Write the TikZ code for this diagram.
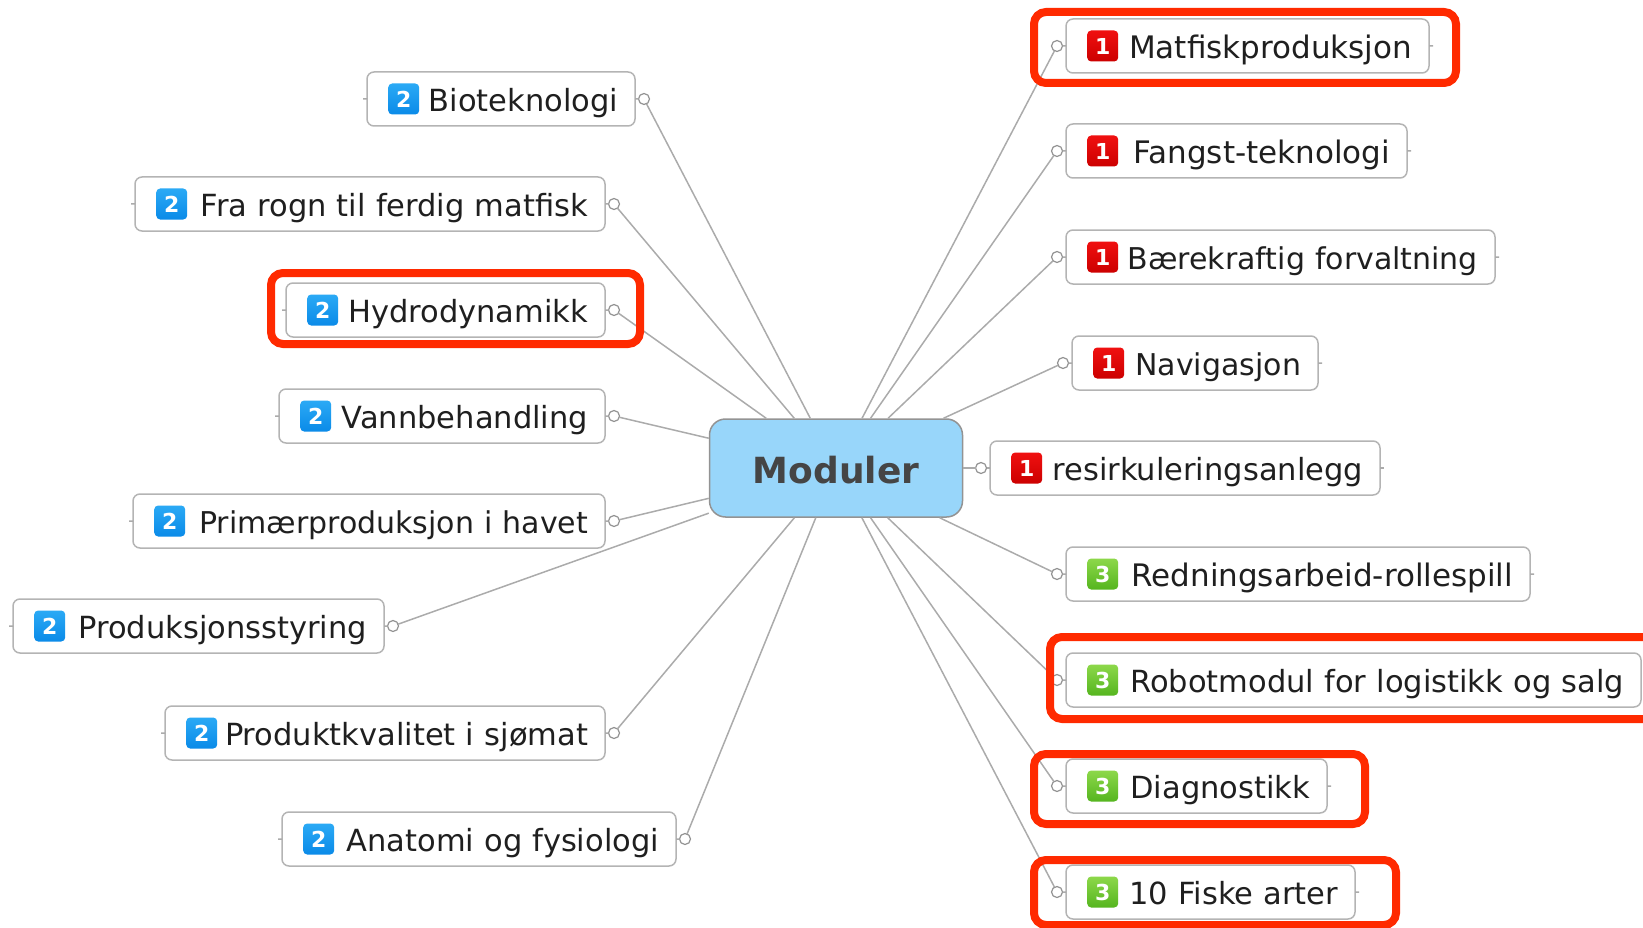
\documentclass[tikz,border=0pt]{standalone}
\usepackage{fontspec}
\setmainfont{DejaVu Sans}
\usetikzlibrary{positioning}

\definecolor{hubblue}{HTML}{98D6FA}
\definecolor{hubtext}{HTML}{454545}
\definecolor{linegray}{HTML}{ABABAB}
\definecolor{boxgray}{HTML}{B4B4B4}
\definecolor{marksred}{HTML}{FF2A00}
\definecolor{onetop}{HTML}{F01010}
\definecolor{onelow}{HTML}{CC0000}
\definecolor{twotop}{HTML}{2BA9F5}
\definecolor{twolow}{HTML}{0A8BE8}
\definecolor{threetop}{HTML}{8DD84A}
\definecolor{threelow}{HTML}{55B51F}

\tikzset{
  modbox/.style={draw=boxgray,line width=1.5pt,fill=white,rounded corners=7pt,align=right,inner xsep=17pt,inner ysep=9pt,outer sep=0pt,text=black!88,font=\fontsize{30.5}{36}\selectfont,text height=30.5pt,text depth=5.5pt},
  slimtext/.style={font=\fontsize{30}{36}\selectfont},
  widetext/.style={font=\fontsize{31}{36}\selectfont},
  hub/.style={draw=gray!85,line width=1.5pt,fill=hubblue,rounded corners=16pt,minimum width=253pt,minimum height=98pt,text=hubtext,font=\fontsize{36}{42}\selectfont\bfseries,text height=35pt,text depth=4pt},
  knob/.style={circle,draw=gray!85,line width=1.2pt,fill=white,minimum size=11pt,inner sep=0pt,outer sep=0pt},
  link/.style={draw=linegray,line width=1.5pt},
  badge/.style={minimum size=31pt,inner sep=0pt,rounded corners=4pt,text=white,font=\fontsize{22}{24}\selectfont\bfseries},
  badgeone/.style={badge,top color=onetop,bottom color=onelow},
  badgetwo/.style={badge,top color=twotop,bottom color=twolow},
  badgethree/.style={badge,top color=threetop,bottom color=threelow},
  marks/.style={draw=marksred,line width=8pt,rounded corners=12pt}
}

\begin{document}
\begin{tikzpicture}[x=1pt,y=-1pt]
  \useasboundingbox (0,0) rectangle (1643,928);
  \node[hub] (hub) at (836,468) {Moduler};

  \node[modbox,widetext,anchor=west,text width=329pt] (mat) at (1066,46) {Matfiskproduksjon};
  \node[badgeone,right=21pt of mat.west] (matb) {1};
  \node[knob,left=3.5pt of mat] (matk) {};
  \coordinate[right=4pt of mat] (matt);
  \draw[link] (hub) -- (matk) (mat) -- (matk) (mat) -- (matt);

  \node[modbox,widetext,anchor=west,text width=307pt] (fan) at (1066,151) {Fangst-teknologi};
  \node[badgeone,right=21pt of fan.west] (fanb) {1};
  \node[knob,left=3.5pt of fan] (fank) {};
  \coordinate[right=4pt of fan] (fant);
  \draw[link] (hub) -- (fank) (fan) -- (fank) (fan) -- (fant);

  \node[modbox,slimtext,anchor=west,text width=395pt] (bar) at (1066,257) {Bærekraftig forvaltning};
  \node[badgeone,right=21pt of bar.west] (barb) {1};
  \node[knob,left=3.5pt of bar] (bark) {};
  \coordinate[right=4pt of bar] (bart);
  \draw[link] (hub) -- (bark) (bar) -- (bark) (bar) -- (bart);

  \node[modbox,slimtext,anchor=west,text width=212pt] (nav) at (1072,363) {Navigasjon};
  \node[badgeone,right=21pt of nav.west] (navb) {1};
  \node[knob,left=3.5pt of nav] (navk) {};
  \coordinate[right=4pt of nav] (navt);
  \draw[link] (hub) -- (navk) (nav) -- (navk) (nav) -- (navt);

  \node[modbox,anchor=west,text width=356pt] (res) at (990,468) {resirkuleringsanlegg};
  \node[badgeone,right=21pt of res.west] (resb) {1};
  \node[knob,left=3.5pt of res] (resk) {};
  \coordinate[right=4pt of res] (rest);
  \draw[link] (hub) -- (resk) (res) -- (resk) (res) -- (rest);

  \node[modbox,widetext,anchor=west,text width=430pt] (red) at (1066,574) {Redningsarbeid-rollespill};
  \node[badgethree,right=21pt of red.west] (redb) {3};
  \node[knob,left=3.5pt of red] (redk) {};
  \coordinate[right=4pt of red] (redt);
  \draw[link] (hub) -- (redk) (red) -- (redk) (red) -- (redt);

  \node[modbox,anchor=west,text width=541pt] (rob) at (1066,680) {Robotmodul for logistikk og salg};
  \node[badgethree,right=21pt of rob.west] (robb) {3};
  \node[knob,left=3.5pt of rob] (robk) {};
  \draw[link] (hub) -- (robk) (rob) -- (robk);

  \node[modbox,anchor=west,text width=227pt] (dia) at (1066,786) {Diagnostikk};
  \node[badgethree,right=21pt of dia.west] (diab) {3};
  \node[knob,left=3.5pt of dia] (diak) {};
  \coordinate[right=4pt of dia] (diat);
  \draw[link] (hub) -- (diak) (dia) -- (diak) (dia) -- (diat);

  \node[modbox,anchor=west,text width=255pt] (fis) at (1066,892) {10 Fiske arter};
  \node[badgethree,right=21pt of fis.west] (fisb) {3};
  \node[knob,left=3.5pt of fis] (fisk) {};
  \coordinate[right=4pt of fis] (fist);
  \draw[link] (hub) -- (fisk) (fis) -- (fisk) (fis) -- (fist);

  \node[modbox,anchor=east,text width=234pt] (bio) at (635,99) {Bioteknologi};
  \node[badgetwo,right=21pt of bio.west] (biob) {2};
  \node[knob,right=3.5pt of bio] (biok) {};
  \coordinate[left=4pt of bio] (biot);
  \draw[link] (hub) -- (biok) (bio) -- (biok) (bio) -- (biot);

  \node[modbox,anchor=east,text width=436pt] (rog) at (605,204) {Fra rogn til ferdig matfisk};
  \node[badgetwo,right=21pt of rog.west] (rogb) {2};
  \node[knob,right=3.5pt of rog] (rogk) {};
  \coordinate[left=4pt of rog] (rogt);
  \draw[link] (hub) -- (rogk) (rog) -- (rogk) (rog) -- (rogt);

  \node[modbox,anchor=east,text width=285pt] (hyd) at (605,310) {Hydrodynamikk};
  \node[badgetwo,right=21pt of hyd.west] (hydb) {2};
  \node[knob,right=3.5pt of hyd] (hydk) {};
  \coordinate[left=4pt of hyd] (hydt);
  \draw[link] (hub) -- (hydk) (hyd) -- (hydk) (hyd) -- (hydt);

  \node[modbox,anchor=east,text width=292pt] (van) at (605,416) {Vannbehandling};
  \node[badgetwo,right=21pt of van.west] (vanb) {2};
  \node[knob,right=3.5pt of van] (vank) {};
  \coordinate[left=4pt of van] (vant);
  \draw[link] (hub) -- (vank) (van) -- (vank) (van) -- (vant);

  \node[modbox,slimtext,anchor=east,text width=438pt] (pri) at (605,521) {Primærproduksjon i havet};
  \node[badgetwo,right=21pt of pri.west] (prib) {2};
  \node[knob,right=3.5pt of pri] (prik) {};
  \coordinate[left=4pt of pri] (prit);
  \draw[link] (hub) -- (prik) (pri) -- (prik) (pri) -- (prit);

  \node[modbox,anchor=east,text width=337pt] (pro) at (384,626) {Produksjonsstyring};
  \node[badgetwo,right=21pt of pro.west] (prob) {2};
  \node[knob,right=3.5pt of pro] (prok) {};
  \coordinate[left=4pt of pro] (prot);
  \draw[link] (hub) -- (prok) (pro) -- (prok) (pro) -- (prot);

  \node[modbox,anchor=east,text width=406pt] (kva) at (605,733) {Produktkvalitet i sjømat};
  \node[badgetwo,right=21pt of kva.west] (kvab) {2};
  \node[knob,right=3.5pt of kva] (kvak) {};
  \coordinate[left=4pt of kva] (kvat);
  \draw[link] (hub) -- (kvak) (kva) -- (kvak) (kva) -- (kvat);

  \node[modbox,anchor=east,text width=360pt] (ana) at (676,839) {Anatomi og fysiologi};
  \node[badgetwo,right=21pt of ana.west] (anab) {2};
  \node[knob,right=3.5pt of ana] (anak) {};
  \coordinate[left=4pt of ana] (anat);
  \draw[link] (hub) -- (anak) (ana) -- (anak) (ana) -- (anat);

  \draw[marks] (1034,12) rectangle (1456,83);
  \draw[marks] (271,273) rectangle (640,344);
  \draw[marks] (1050,637) rectangle (1670,719);
  \draw[marks] (1034,754) rectangle (1365,824);
  \draw[marks] (1034,860) rectangle (1396,925);
\end{tikzpicture}
\end{document}
